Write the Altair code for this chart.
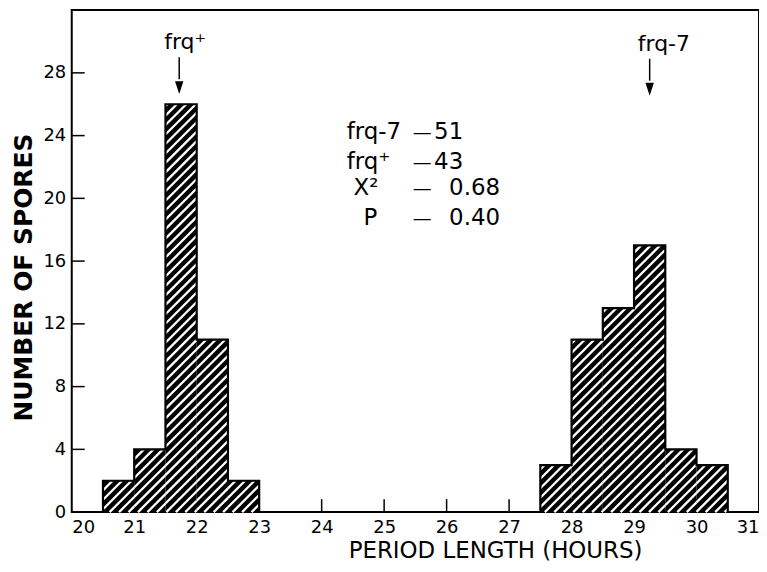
import altair as alt
import pandas as pd
import numpy as np

# ---------------- data ----------------
bins_frq_plus = [20.5, 21.0, 21.5, 22.0, 22.5]
counts_frq_plus = [2, 4, 26, 11, 2]
bins_frq7 = [27.5, 28.0, 28.5, 29.0, 29.5, 30.0]
counts_frq7 = [3, 11, 13, 17, 4, 3]
BIN_W = 0.5

x_tick_values = list(range(20, 32))
y_tick_values = [0, 4, 8, 12, 16, 20, 24, 28]

stat_labels = ["frq-7", "frq\u207a", "X\u00b2", "P"]
stat_values = ["51", "43", "0.68", "0.40"]

X_DOMAIN = [20, 31]
Y_DOMAIN = [0, 32]
W, H = 690, 504
FONT = "DejaVu Sans"

# ---------------- tables ----------------
rows = []
for g, lefts, counts in (("frq+", bins_frq_plus, counts_frq_plus), ("frq-7", bins_frq7, counts_frq7)):
    for l, c in zip(lefts, counts):
        rows.append(dict(group=g, x0=l, x1=l + BIN_W, count=c, zero=0))
bars = pd.DataFrame(rows)

# outline (step path) per group
orows = []
for g, lefts, counts in (("frq+", bins_frq_plus, counts_frq_plus), ("frq-7", bins_frq7, counts_frq7)):
    i = 0
    orows.append(dict(group=g, x=lefts[0], y=0, i=i)); i += 1
    for l, c in zip(lefts, counts):
        orows.append(dict(group=g, x=l, y=c, i=i)); i += 1
    orows.append(dict(group=g, x=lefts[-1] + BIN_W, y=0, i=i))
outline = pd.DataFrame(orows)

# hatch segments (45 degree on screen), derived from the bars
ax_ = W / (X_DOMAIN[1] - X_DOMAIN[0])
ay_ = H / (Y_DOMAIN[1] - Y_DOMAIN[0])
S = 9.5
segs = []
for _, r in bars.iterrows():
    X0 = (r.x0 - X_DOMAIN[0]) * ax_
    X1 = (r.x1 - X_DOMAIN[0]) * ax_
    Hh = r["count"] * ay_
    kmin = int(np.floor((X0 - Hh) / S))
    kmax = int(np.ceil(X1 / S))
    for k in range(kmin, kmax + 1):
        d = k * S
        a = max(0.0, X0 - d)
        b = min(Hh, X1 - d)
        if b > a + 0.3:
            segs.append(dict(hx=(a + d) / ax_ + X_DOMAIN[0], hy=a / ay_,
                             hx2=(b + d) / ax_ + X_DOMAIN[0], hy2=b / ay_))
hatch = pd.DataFrame(segs)

xs = alt.Scale(domain=X_DOMAIN, nice=False, zero=False)
ys = alt.Scale(domain=Y_DOMAIN, nice=False, zero=False)

x_axis = alt.Axis(values=x_tick_values, format="d", ticks=False, domain=False, grid=False,
                  labelFontSize=18, labelFont=FONT, labelColor="black", labelPadding=6,
                  labelFlush=True, labelFlushOffset=0,
                  title="PERIOD LENGTH (HOURS)", titleFontSize=23, titleFont=FONT,
                  titleFontWeight="normal", titleColor="black", titlePadding=4,
                  titleX=425)
y_axis = alt.Axis(values=y_tick_values, format="d", ticks=False, domain=False, grid=False,
                  labelFontSize=18, labelFont=FONT, labelColor="black", labelPadding=6,
                  labelFlush=False,
                  title="NUMBER OF SPORES", titleFontSize=25, titleFont=FONT,
                  titleFontWeight="bold", titleColor="black", titlePadding=7,
                  titleY=268)

# inward ticks
xt = pd.DataFrame(dict(t=x_tick_values[1:-1]))
yt = pd.DataFrame(dict(t=y_tick_values[1:]))
xticks = alt.Chart(xt).mark_rule(color="black", strokeWidth=1.5).encode(
    x=alt.X("t:Q", scale=xs), y=alt.value(H), y2=alt.value(H - 13))
yticks = alt.Chart(yt).mark_rule(color="black", strokeWidth=1.5).encode(
    y=alt.Y("t:Q", scale=ys), x=alt.value(0), x2=alt.value(13))

bar_layer = alt.Chart(bars).mark_rect(color="black").encode(
    x=alt.X("x0:Q", scale=xs, axis=x_axis),
    x2="x1:Q",
    y=alt.Y("count:Q", scale=ys, axis=y_axis),
    y2="zero:Q",
)

hatch_layer = alt.Chart(hatch).mark_rule(color="white", strokeWidth=2.3).encode(
    x=alt.X("hx:Q", scale=xs), y=alt.Y("hy:Q", scale=ys), x2="hx2:Q", y2="hy2:Q")

outline_layer = alt.Chart(outline).mark_line(color="black", strokeWidth=2.2,
                                             interpolate="step-after").encode(
    x=alt.X("x:Q", scale=xs), y=alt.Y("y:Q", scale=ys), detail="group:N",
    order="i:Q")

# annotations
stats = pd.DataFrame(dict(
    label=stat_labels, value=stat_values,
    lx=[24.40, 24.40, 24.51, 24.67],
    dx=[25.61, 25.61, 25.61, 25.61],
    vx=[25.80, 25.80, 26.04, 26.04],
    y=[23.8, 21.9, 20.2, 18.3]))
stat_lab = alt.Chart(stats).mark_text(align="left", baseline="alphabetic", font=FONT,
                                      fontSize=23, color="black").encode(
    x=alt.X("lx:Q", scale=xs), y=alt.Y("y:Q", scale=ys), text="label:N")
stat_dash = alt.Chart(stats).mark_text(align="center", baseline="alphabetic", font=FONT,
                                       fontSize=19, color="black").encode(
    x=alt.X("dx:Q", scale=xs), y=alt.Y("y:Q", scale=ys), text=alt.value("\u2014"))
stat_val = alt.Chart(stats).mark_text(align="left", baseline="alphabetic", font=FONT,
                                      fontSize=23, color="black").encode(
    x=alt.X("vx:Q", scale=xs), y=alt.Y("y:Q", scale=ys), text="value:N")

arrows = pd.DataFrame(dict(name=["frq\u207a", "frq-7"], tx=[21.48, 29.06], ty=[29.5, 29.4],
                           ax=[21.72, 29.25], y_top=[29.0, 28.9], y_bot=[27.6, 27.5],
                           y_head=[27.06, 26.95]))
arrow_text = alt.Chart(arrows).mark_text(align="left", baseline="alphabetic", font=FONT,
                                         fontSize=22, color="black").encode(
    x=alt.X("tx:Q", scale=xs), y=alt.Y("ty:Q", scale=ys), text="name:N")
arrow_line = alt.Chart(arrows).mark_rule(color="black", strokeWidth=1.5).encode(
    x=alt.X("ax:Q", scale=xs), y=alt.Y("y_top:Q", scale=ys), y2="y_bot:Q")
arrow_head = alt.Chart(arrows).mark_point(shape="M-0.65,-1L0.65,-1L0,1Z", filled=True,
                                          size=169, color="black", opacity=1).encode(
    x=alt.X("ax:Q", scale=xs), y=alt.Y("y_head:Q", scale=ys))

chart = alt.layer(
    xticks, yticks, bar_layer, hatch_layer, outline_layer,
    stat_lab, stat_dash, stat_val, arrow_text, arrow_line, arrow_head
).properties(
    width=W, height=H,
    autosize=alt.AutoSizeParams(type="none"),
    padding={"left": 64, "top": 1, "right": 0, "bottom": 55},
    background="white",
).configure_view(stroke="black", strokeWidth=2)

chart.save("out.html", embed_options={"renderer": "svg", "actions": False})
